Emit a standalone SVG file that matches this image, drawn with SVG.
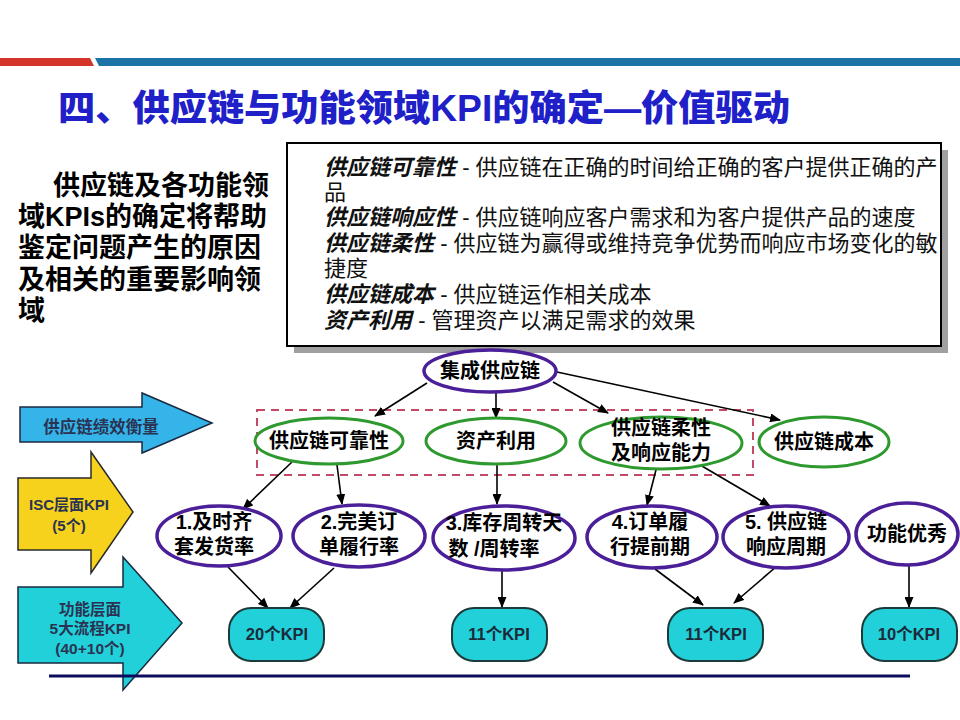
<svg xmlns="http://www.w3.org/2000/svg" width="960" height="720" viewBox="0 0 960 720">
<defs>
<marker id="ah" markerUnits="userSpaceOnUse" markerWidth="11" markerHeight="9" refX="10" refY="4.5" orient="auto">
<path d="M0,0 L11,4.5 L0,9 Z" fill="#000"/>
</marker>
<style>
text{font-family:"Liberation Sans","Noto Sans CJK SC",sans-serif;}
.t{font-weight:700;fill:#000;text-anchor:middle;}
.n20{font-size:20px;}
.box{font-size:22px;fill:#111;}
.term{font-weight:700;font-style:italic;}
.lft{font-size:27px;font-weight:700;fill:#000;}
.arr{font-weight:700;fill:#2a3352;text-anchor:middle;}
.green{fill:#fff;stroke:#2e992e;stroke-width:3;}
.purple{fill:#fff;stroke:#4a1f98;stroke-width:3.5;}
.kpi{fill:#21d0d8;stroke:#1c3a3a;stroke-width:2;}
.kt{font-size:16.5px;font-weight:700;fill:#1c2a3a;text-anchor:middle;}
.c{stroke:#000;stroke-width:1.6;fill:none;marker-end:url(#ah);}
</style>
</defs>
<rect width="960" height="720" fill="#fff"/>
<!-- top band -->
<polygon points="0,58 90,58 94,66 0,66" fill="#d4342a"/>
<polygon points="95,58 960,58 960,66 99,66" fill="#1c74a6"/>
<!-- title -->
<text x="58" y="121" font-size="36" font-weight="900" fill="#2020c8" textLength="732" lengthAdjust="spacingAndGlyphs">四、供应链与功能领域KPI的确定—价值驱动</text>
<!-- left text -->
<g id="intro">
<text class="lft" x="53" y="195">供应链及各功能领</text>
<text class="lft" x="18" y="226">域KPIs的确定将帮助</text>
<text class="lft" x="18" y="257">鉴定问题产生的原因</text>
<text class="lft" x="18" y="289">及相关的重要影响领</text>
<text class="lft" x="18" y="320">域</text>
</g>
<!-- definition box -->
<g id="defbox">
<rect x="294" y="150" width="654" height="203" fill="#a0a0a0"/>
<rect x="287" y="143" width="654" height="203" fill="#fff" stroke="#000" stroke-width="2"/>
<text class="box" x="324" y="175"><tspan class="term">供应链可靠性</tspan> - 供应链在正确的时间给正确的客户提供正确的产</text>
<text class="box" x="324" y="200">品</text>
<text class="box" x="324" y="225"><tspan class="term">供应链响应性</tspan> - 供应链响应客户需求和为客户提供产品的速度</text>
<text class="box" x="324" y="251"><tspan class="term">供应链柔性</tspan> - 供应链为赢得或维持竞争优势而响应市场变化的敏</text>
<text class="box" x="324" y="276">捷度</text>
<text class="box" x="324" y="302"><tspan class="term">供应链成本</tspan> - 供应链运作相关成本</text>
<text class="box" x="324" y="328"><tspan class="term">资产利用</tspan> - 管理资产以满足需求的效果</text>
</g>
<!-- left arrows -->
<g id="arrow-measure">
<polygon points="20,407 142,407 142,393 212,423 142,453 142,442 20,442" fill="#35b4ea" stroke="#1a2a40" stroke-width="1.5"/>
<text class="arr" x="101" y="433" font-size="16.5">供应链绩效衡量</text>
</g>
<g id="arrow-isc">
<polygon points="18,478 91,478 91,452 133,512 91,573 91,550 18,550" fill="#f6d21c" stroke="#2a2a2a" stroke-width="1.5"/>
<text class="arr" x="69" y="510" font-size="15">ISC层面KPI</text>
<text class="arr" x="69" y="531" font-size="15">(5个)</text>
</g>
<g id="arrow-func">
<polygon points="18,587 123,587 123,557 182,623 123,690 123,663 18,663" fill="#21d0d8" stroke="#1a2a40" stroke-width="1.5"/>
<text class="arr" x="90" y="615" font-size="15.5">功能层面</text>
<text class="arr" x="90" y="634" font-size="15.5">5大流程KPI</text>
<text class="arr" x="90" y="654" font-size="15.5">(40+10个)</text>
</g>
<!-- dashed group -->
<rect x="257" y="410" width="496" height="65" fill="none" stroke="#c24a66" stroke-width="2" stroke-dasharray="8,6"/>
<!-- bottom line -->
<line x1="49" y1="676" x2="910" y2="676" stroke="#0c0c5c" stroke-width="3"/>
<!-- connectors -->
<g id="connectors">
<line class="c" x1="427" y1="383" x2="375" y2="416"/>
<line class="c" x1="496" y1="393" x2="496" y2="418"/>
<line class="c" x1="553" y1="382" x2="608" y2="413"/>
<line class="c" x1="557" y1="372" x2="780" y2="420"/>
<line class="c" x1="292" y1="462" x2="243" y2="509"/>
<line class="c" x1="337" y1="465" x2="342" y2="504"/>
<line class="c" x1="497" y1="465" x2="497" y2="504"/>
<line class="c" x1="658" y1="462" x2="647" y2="505"/>
<line class="c" x1="690" y1="459" x2="770" y2="506"/>
<line class="c" x1="228" y1="567" x2="268" y2="608"/>
<line class="c" x1="334" y1="568" x2="290" y2="608"/>
<line class="c" x1="502" y1="570" x2="502" y2="607"/>
<line class="c" x1="655" y1="569" x2="703" y2="605"/>
<line class="c" x1="777" y1="566" x2="734" y2="603"/>
<line class="c" x1="909" y1="565" x2="909" y2="607"/>
</g>
<!-- nodes -->
<g id="n-isc">
<ellipse cx="490" cy="371" rx="66" ry="21" class="purple" stroke-width="5"/>
<text class="t n20" x="490" y="378">集成供应链</text>
</g>
<g id="n-reliab">
<ellipse cx="329" cy="441" rx="74" ry="23" class="green" stroke-width="5"/>
<text class="t n20" x="329" y="448">供应链可靠性</text>
</g>
<g id="n-asset">
<ellipse cx="496" cy="441" rx="70" ry="23" class="green"/>
<text class="t n20" x="496" y="448">资产利用</text>
</g>
<g id="n-flex">
<ellipse cx="661" cy="443" rx="81" ry="26" class="green"/>
<text class="t n20" x="661" y="435">供应链柔性</text>
<text class="t n20" x="661" y="460">及响应能力</text>
</g>
<g id="n-cost">
<ellipse cx="824" cy="442" rx="65" ry="25" class="green"/>
<text class="t n20" x="824" y="449">供应链成本</text>
</g>
<g id="n-k1">
<ellipse cx="219" cy="536" rx="62" ry="30" class="purple"/>
<text class="t n20" x="214" y="529">1.及时齐</text>
<text class="t n20" x="214" y="554">套发货率</text>
</g>
<g id="n-k2">
<ellipse cx="359" cy="536" rx="66" ry="31" class="purple"/>
<text class="t n20" x="359" y="529">2.完美订</text>
<text class="t n20" x="359" y="554">单履行率</text>
</g>
<g id="n-k3">
<ellipse cx="504" cy="538" rx="71" ry="32" class="purple"/>
<text class="t n20" x="504" y="530">3.库存周转天</text>
<text class="t n20" x="494" y="556">数 /周转率</text>
</g>
<g id="n-k4">
<ellipse cx="652" cy="537" rx="65" ry="31" class="purple"/>
<text class="t n20" x="650" y="529">4.订单履</text>
<text class="t n20" x="650" y="554">行提前期</text>
</g>
<g id="n-k5">
<ellipse cx="786" cy="537" rx="63" ry="31" class="purple"/>
<text class="t n20" x="786" y="529">5. 供应链</text>
<text class="t n20" x="786" y="554">响应周期</text>
</g>
<g id="n-func">
<ellipse cx="907" cy="534" rx="51" ry="31" class="purple"/>
<text class="t n20" x="907" y="541">功能优秀</text>
</g>
<g id="kpi20">
<rect x="229" y="608" width="95" height="53" rx="22" ry="22" class="kpi"/>
<text class="kt" x="277" y="640">20个KPI</text>
</g>
<g id="kpi11a">
<rect x="452" y="608" width="95" height="53" rx="22" ry="22" class="kpi"/>
<text class="kt" x="499" y="640">11个KPI</text>
</g>
<g id="kpi11b">
<rect x="668" y="608" width="95" height="53" rx="22" ry="22" class="kpi"/>
<text class="kt" x="716" y="640">11个KPI</text>
</g>
<g id="kpi10">
<rect x="862" y="608" width="95" height="53" rx="22" ry="22" class="kpi"/>
<text class="kt" x="909" y="640">10个KPI</text>
</g>
</svg>
